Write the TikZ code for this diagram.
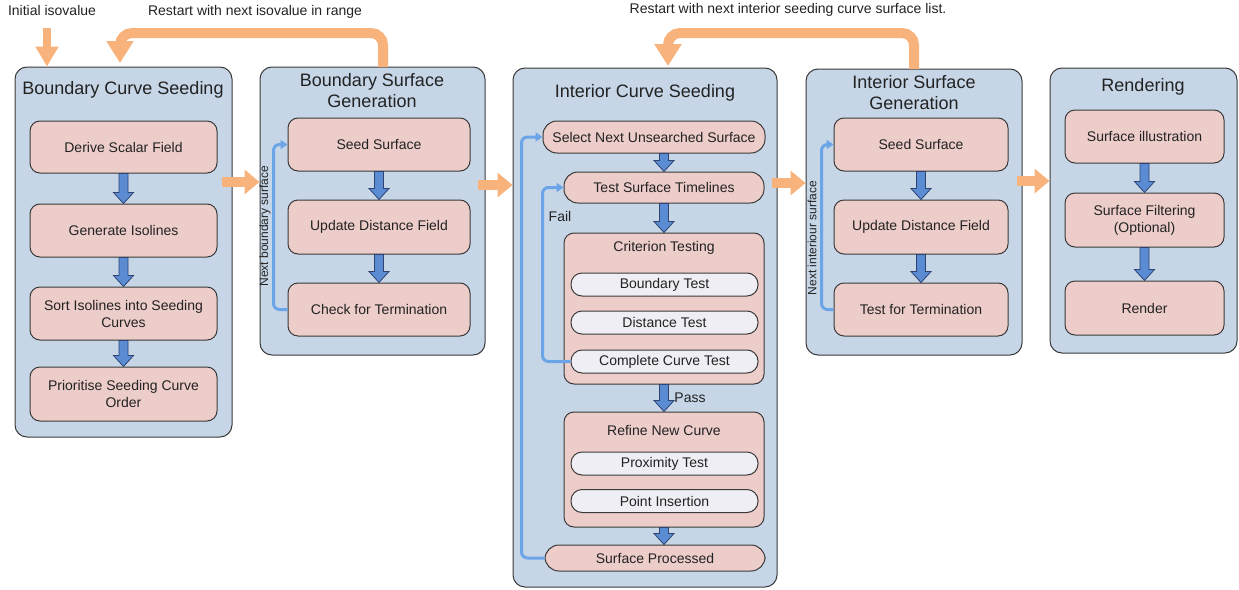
\documentclass[tikz,border=0pt]{standalone}
\usepackage{fontspec}
\setmainfont{Liberation Sans}
\usetikzlibrary{arrows.meta,calc}
\definecolor{outerfill}{HTML}{C6D6E7}
\definecolor{pinkfill}{HTML}{EDCDC9}
\definecolor{pillfill}{HTML}{EEEEF4}
\definecolor{boxline}{HTML}{3A3A3A}
\definecolor{txt}{HTML}{222222}
\definecolor{orng}{HTML}{F8B27C}
\definecolor{blkfill}{HTML}{5B8CD3}
\definecolor{blkline}{HTML}{2E4370}
\definecolor{loopblue}{HTML}{6CA4E8}
\newcommand\blkarrow[2]{%
  \draw[blkarr] let \p1=(#1), \p2=(#2) in
    (\x2-4.5pt,\y1) -- (\x2+4.5pt,\y1) -- (\x2+4.5pt,\y2+11pt) -- (\x2+10pt,\y2+11pt)
    -- (\x2,\y2) -- (\x2-10pt,\y2+11pt) -- (\x2-4.5pt,\y2+11pt) -- cycle;}
\begin{document}
\begin{tikzpicture}[x=1pt,y=-1pt,
  outerbox/.style={draw=boxline, fill=outerfill, rounded corners=12pt, line width=1pt, inner sep=0pt},
  stepbox/.style={draw=boxline, fill=pinkfill, rounded corners=10pt, line width=1pt, inner sep=2pt,
    align=center, font=\fontsize{14}{17}\selectfont, text=txt},
  pillstep/.style={stepbox, rounded corners=14pt},
  pillbox/.style={draw=boxline, fill=pillfill, rounded corners=11pt, line width=1pt, inner sep=1pt,
    minimum width=187pt, minimum height=23pt, font=\fontsize{14}{17}\selectfont, text=txt},
  titletext/.style={font=\fontsize{18}{21}\selectfont, text=txt, align=center},
  subtitle/.style={font=\fontsize{14}{17}\selectfont, text=txt},
  labeltext/.style={font=\fontsize{14}{17}\selectfont, text=txt},
  sidetext/.style={font=\fontsize{12}{14}\selectfont, text=txt, rotate=90},
  blkarr/.style={draw=blkline, fill=blkfill, line width=0.8pt, line join=miter},
  looparr/.style={draw=loopblue, line width=3pt, rounded corners=6pt, -{Triangle[width=9pt,length=7pt]}},
  orarr/.style={draw=orng, line width=10pt, -{Triangle[width=24pt,length=15pt]}},
  orloop/.style={draw=orng, line width=10pt, rounded corners=12pt, -{Triangle[width=26pt,length=22pt]}},
  orinit/.style={draw=orng, line width=8pt, -{Triangle[width=22pt,length=20pt]}}
]
\useasboundingbox (0,0) rectangle (1239,589);

% outer stage boxes
\node[outerbox, minimum width=217pt, minimum height=370pt] (bcs) at (123.5,252) {};
\node[outerbox, minimum width=225pt, minimum height=288pt] (bsg) at (372.5,211) {};
\node[outerbox, minimum width=264pt, minimum height=519pt] (ics) at (645,327.5) {};
\node[outerbox, minimum width=216pt, minimum height=286pt] (isg) at (914,212) {};
\node[outerbox, minimum width=187pt, minimum height=285pt] (ren) at (1143.5,210.5) {};

% titles
\node[titletext] (t1) at (123,90) {Boundary Curve Seeding};
\node[titletext] (t2) at (372,91) {Boundary Surface\\Generation};
\node[titletext] (t3) at (645,93) {Interior Curve Seeding};
\node[titletext] (t4) at (914,93) {Interior Surface\\Generation};
\node[titletext] (t5) at (1143,87) {Rendering};

% stage 1
\node[stepbox, minimum width=187pt, minimum height=52pt] (dsf) at (123.5,147) {Derive Scalar Field};
\node[stepbox, minimum width=187pt, minimum height=53pt] (gi) at (123.5,230.5) {Generate Isolines};
\node[stepbox, minimum width=187pt, minimum height=53pt] (si) at (123.5,313.5) {Sort Isolines into Seeding\\Curves};
\node[stepbox, minimum width=187pt, minimum height=54pt] (pso) at (123.5,394) {Prioritise Seeding Curve\\Order};
\blkarrow{dsf.south}{gi.north}
\blkarrow{gi.south}{si.north}
\blkarrow{si.south}{pso.north}

% stage 2
\node[stepbox, minimum width=182pt, minimum height=53pt] (ss2) at (379,144.5) {Seed Surface};
\node[stepbox, minimum width=182pt, minimum height=54pt] (ud2) at (379,227) {Update Distance Field};
\node[stepbox, minimum width=182pt, minimum height=53pt] (ct2) at (379,309.5) {Check for Termination};
\blkarrow{ss2.south}{ud2.north}
\blkarrow{ud2.south}{ct2.north}
\draw[looparr] (ct2.west) -- ++(-14,0) |- (ss2.west);
\node[sidetext] (nbs) at (265,226) {Next boundary surface};

% stage 3
\node[pillstep, minimum width=222pt, minimum height=32pt] (sel) at (654,137) {Select Next Unsearched Surface};
\node[pillstep, minimum width=200pt, minimum height=31pt] (tst) at (664,187.5) {Test Surface Timelines};
\node[stepbox, minimum width=200pt, minimum height=151pt] (crit) at (664,308.5) {};
\node[subtitle] (critt) at (664,248) {Criterion Testing};
\node[pillbox] (bt) at (664.5,284.5) {Boundary Test};
\node[pillbox] (dt) at (664.5,322.5) {Distance Test};
\node[pillbox] (cct) at (664.5,361.5) {Complete Curve Test};
\node[stepbox, minimum width=200pt, minimum height=115pt] (ref) at (664,469.5) {};
\node[subtitle] (reft) at (664,430) {Refine New Curve};
\node[pillbox] (pt) at (664.5,463.5) {Proximity Test};
\node[pillbox] (pi) at (664.5,501) {Point Insertion};
\node[pillstep, minimum width=220pt, minimum height=26pt] (sp) at (655,558) {Surface Processed};
\blkarrow{sel.south -| tst.north}{tst.north}
\blkarrow{tst.south}{crit.north}
\blkarrow{crit.south}{ref.north}
\blkarrow{ref.south}{ref.south |- sp.north}
\node[labeltext] (pass) at (690,398) {Pass};
\node[labeltext] (fail) at (560,216) {Fail};
\draw[looparr] (cct.west) -- ++(-28,0) |- (tst.west);
\draw[looparr] (sp.west) -- ++(-23,0) |- (sel.west);

% stage 4
\node[stepbox, minimum width=174pt, minimum height=53pt] (ss4) at (921,144.5) {Seed Surface};
\node[stepbox, minimum width=174pt, minimum height=54pt] (ud4) at (921,227) {Update Distance Field};
\node[stepbox, minimum width=174pt, minimum height=53pt] (tt4) at (921,309.5) {Test for Termination};
\blkarrow{ss4.south}{ud4.north}
\blkarrow{ud4.south}{tt4.north}
\draw[looparr] (tt4.west) -- ++(-12,0) |- (ss4.west);
\node[sidetext] (nis) at (812,238) {Next interiour surface};

% stage 5
\node[stepbox, minimum width=159pt, minimum height=53pt] (sil) at (1144.5,136.5) {Surface illustration};
\node[stepbox, minimum width=159pt, minimum height=54pt] (sfo) at (1144.5,220) {Surface Filtering\\(Optional)};
\node[stepbox, minimum width=159pt, minimum height=54pt] (rnd) at (1144.5,308) {Render};
\blkarrow{sil.south}{sfo.north}
\blkarrow{sfo.south}{rnd.north}

% orange flow between stages
\coordinate (o1) at (222,182);
\coordinate (o2) at (478,185);
\coordinate (o3) at (772,183);
\coordinate (o4) at (1017,181);
\draw[orarr] (o1) -- (bsg.west |- o1);
\draw[orarr] (o2) -- (ics.west |- o2);
\draw[orarr] (o3) -- (isg.west |- o3);
\draw[orarr] (o4) -- (ren.west |- o4);

% top labels and loops
\node[labeltext] (init) at (52,10) {Initial isovalue};
\coordinate (is) at (47,28);
\draw[orinit] (is) -- (is |- bcs.north);
\node[labeltext] (rs1) at (255,12) {Restart with next isovalue in range};
\coordinate (l1a) at (383,67);
\coordinate (l1b) at (120,63);
\draw[orloop] (l1a) -- (383,33) -| (l1b);
\node[labeltext] (rs2) at (788,10) {Restart with next interior seeding curve surface list.};
\coordinate (l2a) at (914,69);
\coordinate (l2b) at (668,66);
\draw[orloop] (l2a) -- (914,33) -| (l2b);
\end{tikzpicture}
\end{document}
